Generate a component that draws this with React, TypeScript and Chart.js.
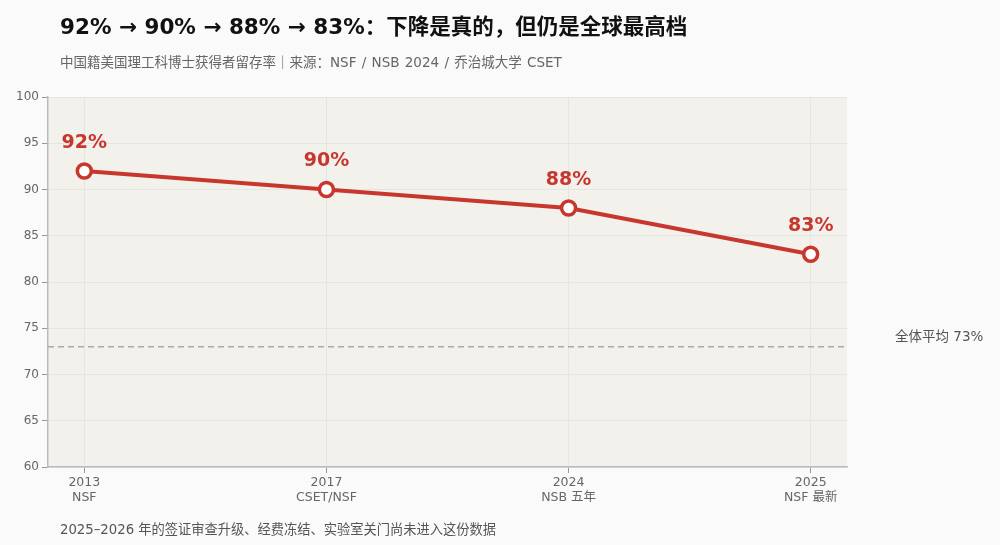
import { useEffect, useRef } from "react";
import { Chart, registerables } from "chart.js";

Chart.register(...registerables);

const YEARS = ["2013", "2017", "2024", "2025"];
const SOURCES = ["NSF", "CSET/NSF", "NSB 五年", "NSF 最新"];
const RETENTION = [92, 90, 88, 83];
const OVERALL_AVG = 73;
const Y_TICKS = [60, 65, 70, 75, 80, 85, 90, 95, 100];

const RED = "#c8372d";
const FONT = '"DejaVu Sans", "Noto Sans CJK SC", sans-serif';

const plotBg = {
  id: "plotBg",
  beforeDraw(chart: Chart) {
    const { ctx, chartArea } = chart;
    ctx.save();
    ctx.fillStyle = "#f2f1ec";
    ctx.fillRect(chartArea.left, chartArea.top, chartArea.right - chartArea.left, chartArea.bottom - chartArea.top);
    ctx.restore();
  },
};

const avgLine = {
  id: "avgLine",
  beforeDatasetsDraw(chart: Chart) {
    const { ctx, chartArea } = chart;
    const y = chart.scales.y.getPixelForValue(OVERALL_AVG);
    ctx.save();
    ctx.strokeStyle = "#aaaaaa";
    ctx.lineWidth = 1.5;
    ctx.setLineDash([6, 4]);
    ctx.beginPath();
    ctx.moveTo(chartArea.left, y);
    ctx.lineTo(chartArea.right, y);
    ctx.stroke();
    ctx.setLineDash([]);
    ctx.fillStyle = "#555";
    ctx.font = `13.5px ${FONT}`;
    ctx.textBaseline = "middle";
    ctx.textAlign = "left";
    ctx.fillText(`全体平均 ${OVERALL_AVG}%`, chartArea.right + 48, y - 9);
    ctx.restore();
  },
};

const pointLabels = {
  id: "pointLabels",
  afterDatasetsDraw(chart: Chart) {
    const { ctx } = chart;
    const meta = chart.getDatasetMeta(0);
    ctx.save();
    ctx.fillStyle = RED;
    ctx.font = `bold 19px ${FONT}`;
    ctx.textAlign = "center";
    ctx.textBaseline = "middle";
    meta.data.forEach((pt, i) => {
      ctx.fillText(`${RETENTION[i]}%`, pt.x, pt.y - 28);
    });
    ctx.restore();
  },
};

export default function App() {
  const canvasRef = useRef<HTMLCanvasElement>(null);

  useEffect(() => {
    if (!canvasRef.current) return;
    const chart = new Chart(canvasRef.current, {
      type: "line",
      data: {
        datasets: [
          {
            data: RETENTION.map((v, i) => ({ x: i, y: v })),
            borderColor: RED,
            borderWidth: 4,
            pointRadius: 7,
            pointBorderWidth: 3.5,
            pointBackgroundColor: "#ffffff",
            pointBorderColor: RED,
            tension: 0,
          },
        ],
      },
      options: {
        animation: false,
        responsive: false,
        layout: { padding: { top: 97, right: 153, left: 0, bottom: 0 } },
        plugins: { legend: { display: false }, tooltip: { enabled: false } },
        scales: {
          x: {
            type: "linear",
            min: -0.15,
            max: 3.15,
            afterBuildTicks: (s: any) => {
              s.ticks = YEARS.map((_, i) => ({ value: i }));
            },
            afterFit: (s: any) => {
              s.height = 545 - 467;
            },
            ticks: {
              color: "#666",
              font: { family: FONT, size: 12.5 },
              padding: 2,
              maxRotation: 0,
              callback: (v: any) => [YEARS[v], SOURCES[v]],
            },
            grid: { color: "#e6e5e0", tickLength: 6, tickColor: "#999" },
            border: { color: "#bbbbbb", width: 1.5 },
          },
          y: {
            min: 60,
            max: 100,
            afterBuildTicks: (s: any) => {
              s.ticks = Y_TICKS.map((v) => ({ value: v }));
            },
            afterFit: (s: any) => {
              s.width = 48;
            },
            ticks: {
              color: "#666",
              font: { family: FONT, size: 12 },
              padding: 3,
            },
            grid: { color: "#e6e5e0", tickLength: 6, tickColor: "#999" },
            border: { color: "#bbbbbb", width: 1.5 },
          },
        },
      },
      plugins: [plotBg, avgLine, pointLabels],
    } as any);
    return () => chart.destroy();
  }, []);

  return (
    <div
      style={{
        position: "fixed",
        left: 0,
        top: 0,
        width: 1000,
        height: 545,
        background: "#fafafa",
        fontFamily: FONT,
      }}
    >
      <canvas ref={canvasRef} width={1000} height={545} style={{ position: "absolute", left: 0, top: 0 }} />
      <div style={{ position: "absolute", left: 60, top: 9, fontSize: 21.5, fontWeight: "bold", color: "#111" }}>
        92% → 90% → 88% → 83%：下降是真的，但仍是全球最高档
      </div>
      <div style={{ position: "absolute", left: 60, top: 51, fontSize: 13.5, color: "#666", wordSpacing: 1 }}>
        中国籍美国理工科博士获得者留存率｜来源：NSF / NSB 2024 / 乔治城大学 CSET
      </div>
      <div style={{ position: "absolute", left: 60, top: 519, fontSize: 13.25, color: "#555" }}>
        2025–2026 年的签证审查升级、经费冻结、实验室关门尚未进入这份数据
      </div>
    </div>
  );
}
